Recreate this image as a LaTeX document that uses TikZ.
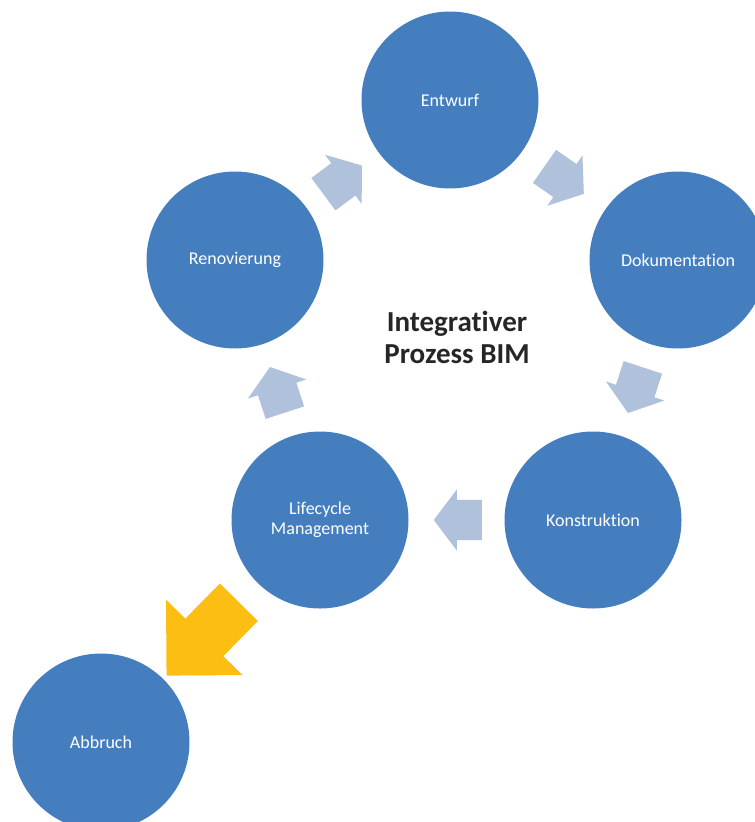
\documentclass[tikz,border=0pt]{standalone}
\usepackage{fontspec}
\setmainfont{Carlito}[Ligatures=CommonOff]
\usetikzlibrary{shapes.arrows}
\usetikzlibrary{calc}
\definecolor{phase}{RGB}{68,126,191}
\definecolor{flow}{RGB}{176,193,220}
\definecolor{exitcol}{RGB}{253,190,20}
\definecolor{titlecol}{RGB}{38,38,38}

\begin{document}
\begin{tikzpicture}[x=1pt,y=-1pt,
      phase node/.style={circle,fill=phase,text=white,minimum size=177pt,inner sep=0pt,
        font=\fontsize{18}{20}\selectfont,align=center},
      flow arrow/.style={single arrow,fill=flow,minimum height=48pt,minimum width=61pt,anchor=tail,
        single arrow head extend=10.5pt,single arrow tip angle=106,inner xsep=0pt,inner ysep=20pt},
      exit arrow/.style={single arrow,fill=exitcol,minimum height=103pt,minimum width=107pt,anchor=tail,
        single arrow head extend=27pt,single arrow tip angle=90,inner xsep=0pt,inner ysep=26.5pt}]
    \useasboundingbox (0,0) rectangle (755,822);
    \node[phase node] (Entwurf) at (450,100) {Entwurf};
    \node[phase node] (Doku) at (678,260) {Dokumentation};
    \node[phase node] (Konstr) at (593,520) {Konstruktion};
    \node[phase node] (Life) at (320,520) {Lifecycle\\Management};
    \node[phase node] (Renov) at (235,260) {Renovierung};
    \node[phase node] (Abbruch) at (101,742) {Abbruch};
    \node[font=\fontsize{29}{32}\selectfont\bfseries,text=titlecol,align=center]
         (BIM) at (457,337) {Integrativer\\Prozess BIM};
    % cycle arrows between the phases
    \node[flow arrow,rotate=36.7] (RenovEntwurf) at ($(Renov)!0.5!(Entwurf)!24pt!(Renov)$) {};
    \node[flow arrow,rotate=-35] (EntwurfDoku) at ($(Entwurf)!0.5!(Doku)!24pt!(Entwurf)$) {};
    \node[flow arrow,rotate=-108.1] (DokuKonstr) at ($(Doku)!0.5!(Konstr)!24pt!(Doku)$) {};
    \node[flow arrow,rotate=180] (KonstrLife) at ($(Konstr)!0.5!(Life)!25.5pt!(Konstr)$) {};
    \node[flow arrow,rotate=108.1] (LifeRenov) at ($(Life)!0.5!(Renov)!24pt!(Life)$) {};
    \node[exit arrow,rotate=225.4] (LifeAbbruch) at ($(Life)!0.535!(Abbruch)!51.5pt!(Life)$) {};
\end{tikzpicture}
\end{document}
